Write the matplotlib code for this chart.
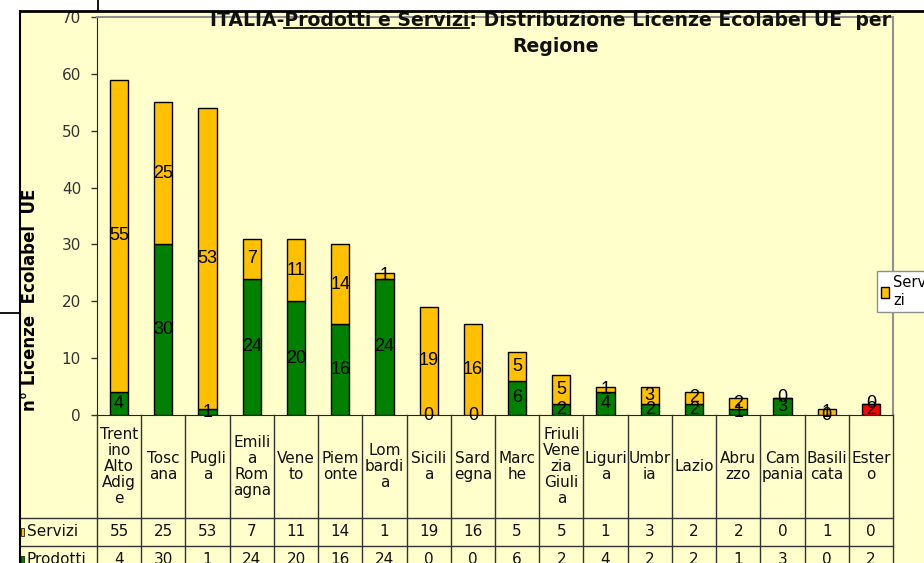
import numpy as np
import matplotlib
matplotlib.use('Agg')
import matplotlib.pyplot as plt
from matplotlib.lines import Line2D
from matplotlib.patches import Rectangle

# values
regioni = ["Trent\nino\nAlto\nAdig\ne", "Tosc\nana", "Pugli\na", "Emili\na\nRom\nagna",
           "Vene\nto", "Piem\nonte", "Lom\nbardi\na", "Sicili\na", "Sard\negna",
           "Marc\nhe", "Friuli\nVene\nzia\nGiuli\na", "Liguri\na", "Umbr\nia", "Lazio",
           "Abru\nzzo", "Cam\npania", "Basili\ncata", "Ester\no"]
servizi = [55, 25, 53, 7, 11, 14, 1, 19, 16, 5, 5, 1, 3, 2, 2, 0, 1, 0]
prodotti = [4, 30, 1, 24, 20, 16, 24, 0, 0, 6, 2, 4, 2, 2, 1, 3, 0, 2]
yticks = [0, 10, 20, 30, 40, 50, 60, 70]

W, H = 924, 563
BG = '#FFFFCC'
ORANGE = '#FFC000'
GREEN = '#008000'
RED = '#FF0000'

def fx(px):
    return px / W

def fy(py):
    return 1 - py / H

fig = plt.figure(figsize=(W / 100, H / 100), dpi=100, facecolor='white')

# chart area background and frame
fig.add_artist(Rectangle((fx(20), fy(H)), fx(W - 20), fy(11), transform=fig.transFigure,
                         facecolor=BG, edgecolor='none', zorder=0))
fig.add_artist(Line2D([fx(20), fx(W)], [fy(11), fy(11)], transform=fig.transFigure,
                      color='black', lw=2, zorder=10))
fig.add_artist(Line2D([fx(20), fx(20)], [fy(11), fy(H)], transform=fig.transFigure,
                      color='black', lw=1.5, zorder=10))
fig.add_artist(Line2D([fx(98), fx(98)], [fy(0), fy(11)], transform=fig.transFigure,
                      color='black', lw=1.3, zorder=10))
fig.add_artist(Line2D([fx(0), fx(20)], [fy(313), fy(313)], transform=fig.transFigure,
                      color='black', lw=1.3, zorder=10))

# plot area
left, right, top, bottom = 97, 893, 17, 415
ax = fig.add_axes([fx(left), fy(bottom), fx(right - left), (bottom - top) / H])
ax.set_facecolor(BG)
n = len(regioni)
x = np.arange(n)
prod_colors = [RED if r.startswith('Ester') else GREEN for r in regioni]
pb = ax.bar(x, prodotti, width=0.41, color=prod_colors, edgecolor='black', lw=1, zorder=3)
sb = ax.bar(x, servizi, width=0.41, bottom=prodotti, color=ORANGE, edgecolor='black', lw=1, zorder=3)

lab_font = dict(family='Liberation Sans', fontsize=13, color='black', zorder=5)
for i in range(n):
    p, s = prodotti[i], servizi[i]
    ax.text(x[i], p / 2, str(p), ha='center', va='center', **lab_font)
    ax.text(x[i], p + s / 2, str(s), ha='center', va='center', **lab_font)

ax.set_xlim(-0.5, n - 0.5)
ax.set_ylim(0, 70)
ax.set_yticks(yticks)
ax.set_xticks([])
ax.tick_params(axis='y', length=4.5, width=1, pad=7, labelsize=11, colors='#333333')
for lbl in ax.get_yticklabels():
    lbl.set_family('DejaVu Sans')
ax.spines['left'].set_color('#222222')
ax.spines['bottom'].set_color('#222222')
ax.spines['top'].set_color('#909090')
ax.spines['right'].set_color('#909090')
ax.spines['top'].set_linewidth(1.5)
ax.spines['right'].set_linewidth(1.5)

# legend (cut at the right edge, like the original)
ax.legend([sb], ['Servi\nzi'], loc='upper left', bbox_to_anchor=(fx(877), fy(271)),
          bbox_transform=fig.transFigure, fancybox=False, edgecolor='#909090',
          facecolor='white', framealpha=1, prop={'family': 'DejaVu Sans', 'size': 10.5},
          handlelength=0.55, handleheight=0.8, handletextpad=0.25, borderpad=0.3,
          borderaxespad=0)

# data table below
colw = (right - left) / n
tab_bottom = 574
tax = fig.add_axes([fx(20), fy(tab_bottom), fx(right - 20), (tab_bottom - bottom) / H])
tax.set_xlim(-0.5 - (left - 20) / colw, n - 0.5)
tax.set_ylim(tab_bottom - bottom, 0)
tax.axis('off')
r1, r2, r3 = 103, 131, 159
for i in range(n + 1):
    tax.plot([i - 0.5, i - 0.5], [0, r3], color='#333333', lw=1, clip_on=False)
x0 = -0.5 - (left - 20) / colw
for yy in (r1, r2, r3):
    tax.plot([x0, n - 0.5], [yy, yy], color='#333333', lw=1, clip_on=False)

cell_font = dict(family='DejaVu Sans', fontsize=11, color='#111111')
for i in range(n):
    tax.text(x[i], r1 / 2, regioni[i], ha='center', va='center', linespacing=1.1, **cell_font)
    tax.text(x[i], (r1 + r2) / 2, str(servizi[i]), ha='center', va='center', **cell_font)
    tax.text(x[i], (r2 + r3) / 2, str(prodotti[i]), ha='center', va='center', **cell_font)

sq = 3 / colw
for yc, name, col in [((r1 + r2) / 2, 'Servizi', ORANGE), ((r2 + r3) / 2, 'Prodotti', GREEN)]:
    tax.add_patch(Rectangle((x0 + 1 / colw, yc - 4), sq, 8, facecolor=col,
                            edgecolor='black', lw=0.5, clip_on=False))
    tax.text(x0 + 7 / colw, yc, name, ha='left', va='center', **cell_font)

# axis title
fig.text(fx(30), fy(300), 'n° Licenze  Ecolabel  UE', rotation=90, ha='center', va='center',
         family='DejaVu Sans', fontsize=12, fontweight='bold')

# chart title with underlined part
tfont = dict(family='DejaVu Sans', fontsize=13.6, fontweight='bold', color='#111111')
line1 = 'ITALIA-Prodotti e Servizi: Distribuzione Licenze Ecolabel UE  per'
t1 = fig.text(fx(550), fy(20), line1, ha='center', va='center', zorder=9, **tfont)
fig.text(fx(556), fy(47), 'Regione', ha='center', va='center', zorder=9, **tfont)

renderer = fig.canvas.get_renderer()
bb = t1.get_window_extent(renderer)
def width_of(s):
    t = fig.text(0, 0, s, **tfont)
    w = t.get_window_extent(renderer).width
    t.remove()
    return w
u0 = bb.x0 + width_of('ITALIA-')
u1 = bb.x0 + width_of('ITALIA-Prodotti e Servizi')
uy = bb.y0 + 2
fig.add_artist(Line2D([u0 / W, u1 / W], [uy / H, uy / H], transform=fig.transFigure,
                      color='#111111', lw=1.3, zorder=9))

fig.savefig('out.png', dpi=100, facecolor='white')
